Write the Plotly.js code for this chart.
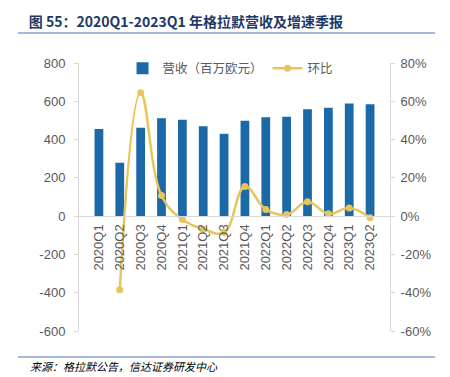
<!DOCTYPE html>
<html>
<head>
<meta charset="utf-8">
<script src="https://cdn.plot.ly/plotly-3.0.1.min.js"></script>
<style>html,body{margin:0;padding:0;background:#fff;}#chart{width:450px;height:377px;}</style>
</head>
<body>
<div id="chart"></div>
<script>
const categories = ["2020Q1","2020Q2","2020Q3","2020Q4","2021Q1","2021Q2","2021Q3","2021Q4","2022Q1","2022Q2","2022Q3","2022Q4","2023Q1","2023Q2"];
const revenue = [455, 279, 462, 512, 504, 469, 430, 498, 516, 519, 558, 566, 589, 584];
const qoq = [null, -38.5, 64.5, 10.8, -1.8, -6.8, -8.5, 15.5, 3.5, 0.8, 7.5, 1.2, 4.2, -0.9];
const leftTickVals = [-600, -400, -200, 0, 200, 400, 600, 800];
const leftTickText = ["-600", "-400", "-200", "0", "200", "400", "600", "800"];
const rightTickVals = [-60, -40, -20, 0, 20, 40, 60, 80];
const rightTickText = ["-60%", "-40%", "-20%", "0%", "20%", "40%", "60%", "80%"];
const titleText = "图 55：2020Q1-2023Q1 年格拉默营收及增速季报";
const sourceText = "来源：格拉默公告，信达证券研发中心";
const barName = "营收（百万欧元）";
const lineName = "环比";

const tickFont = {family: "Liberation Sans, Arial, sans-serif", size: 13, color: "#595959"};
const cjk = "Noto Sans CJK SC, sans-serif";

const traces = [
  {type: "bar", x: categories, y: revenue, name: barName, yaxis: "y",
   marker: {color: "#1B69A6"}, width: 0.42, hoverinfo: "skip"},
  {type: "scatter", mode: "lines+markers", x: categories, y: qoq, name: lineName, yaxis: "y2",
   line: {color: "#E6C65A", width: 2.5, shape: "spline", smoothing: 1.15},
   marker: {color: "#E6C65A", size: 7}, connectgaps: false, hoverinfo: "skip"}
];

const layout = {
  width: 450, height: 377,
  margin: {l: 79, r: 60, t: 63, b: 46},
  paper_bgcolor: "#ffffff", plot_bgcolor: "#ffffff",
  showlegend: true,
  title: {text: "<b>" + titleText + "</b>", xref: "container", yref: "container",
          x: 0.064, xanchor: "left", y: 0.942, yanchor: "middle",
          font: {family: cjk, size: 14, color: "#1F3864"}},
  legend: {orientation: "h", x: 0.14, xanchor: "left", y: 1.035, yanchor: "top",
           font: {family: cjk, size: 12.5, color: "#595959"}, bgcolor: "rgba(0,0,0,0)",
           itemwidth: 30, traceorder: "normal"},
  xaxis: {type: "category", anchor: "free", position: 600/1400,
          showline: true, linecolor: "#D9D9D9", linewidth: 1, ticks: "",
          tickangle: -90, tickfont: {family: "Liberation Sans, Arial, sans-serif", size: 13, color: "#595959"},
          ticklabelstandoff: 2,
          showgrid: false, zeroline: false, fixedrange: true},
  yaxis: {range: [-600, 800], tickvals: leftTickVals, ticktext: leftTickText,
          showline: true, linecolor: "#D9D9D9", linewidth: 1, ticks: "outside", ticklen: 4,
          tickcolor: "#D9D9D9", showgrid: false, zeroline: false, tickfont: tickFont,
          ticklabelstandoff: 6, fixedrange: true},
  yaxis2: {range: [-60, 80], tickvals: rightTickVals, ticktext: rightTickText,
           overlaying: "y", side: "right", anchor: "x",
           showline: true, linecolor: "#D9D9D9", linewidth: 1, ticks: "outside", ticklen: 4,
           tickcolor: "#D9D9D9", showgrid: false, zeroline: false, tickfont: tickFont,
           ticklabelstandoff: 3, fixedrange: true},
  shapes: [
    {type: "line", xref: "paper", yref: "paper", x0: -0.196, x1: 1.145, y0: 1.112, y1: 1.112,
     line: {color: "#4A6FB5", width: 1.2}},
    {type: "line", xref: "paper", yref: "paper", x0: -0.196, x1: 1.145, y0: -0.097, y1: -0.097,
     line: {color: "#4A6FB5", width: 1.2}}
  ],
  annotations: [
    {text: "<i>" + sourceText + "</i>", xref: "paper", yref: "paper", x: -0.165, y: -0.131,
     xanchor: "left", yanchor: "middle", showarrow: false,
     font: {family: cjk, size: 11, color: "#000000"}}
  ]
};

Plotly.newPlot("chart", traces, layout, {staticPlot: true, displayModeBar: false});
</script>
</body>
</html>
